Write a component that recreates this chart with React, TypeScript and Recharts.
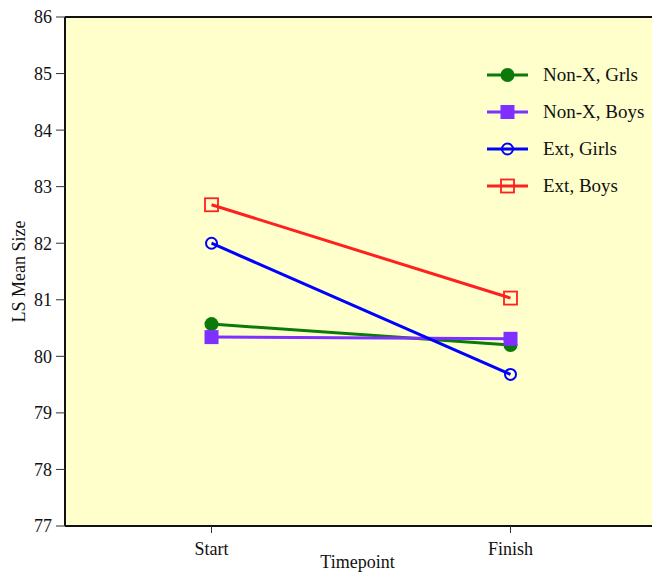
import React from "react";
import { LineChart, Line, XAxis, YAxis, CartesianGrid, ReferenceLine, Legend } from "recharts";

const categories = ["Start", "Finish"];
const yTicks = [77, 78, 79, 80, 81, 82, 83, 84, 85, 86];

const nonXGirls = [80.57, 80.2];
const nonXBoys = [80.34, 80.31];
const extGirls = [82.0, 79.68];
const extBoys = [82.68, 81.03];

const series = [
  { key: "nonXGirls", name: "Non-X, Grls", color: "#0b7a0b", shape: "circle", filled: true, size: 7 },
  { key: "nonXBoys", name: "Non-X, Boys", color: "#7f2fff", shape: "square", filled: true, size: 14 },
  { key: "extGirls", name: "Ext, Girls", color: "#0000ff", shape: "circle", filled: false, size: 5.5 },
  { key: "extBoys", name: "Ext, Boys", color: "#ff2020", shape: "square", filled: false, size: 13 },
];

const data = categories.map((c, i) => ({
  x: i,
  label: c,
  nonXGirls: nonXGirls[i],
  nonXBoys: nonXBoys[i],
  extGirls: extGirls[i],
  extBoys: extBoys[i],
}));

const font = "'Liberation Serif', 'DejaVu Serif', serif";

function Marker({ cx, cy, s }: any) {
  if (s.shape === "circle") {
    return (
      <circle
        cx={cx}
        cy={cy}
        r={s.size}
        fill={s.filled ? s.color : "none"}
        stroke={s.color}
        strokeWidth={s.filled ? 0 : 2}
      />
    );
  }
  const h = s.size / 2;
  return (
    <rect
      x={cx - h}
      y={cy - h}
      width={s.size}
      height={s.size}
      fill={s.filled ? s.color : "none"}
      stroke={s.color}
      strokeWidth={s.filled ? 0 : 1.8}
    />
  );
}

const makeDot = (s: any) => (p: any) => (
  <g key={`${s.key}-${p.index}`}>
    <Marker cx={p.cx} cy={p.cy} s={s} />
  </g>
);

function LegendBox() {
  return (
    <div style={{ fontFamily: font, fontSize: 19, color: "#111" }}>
      {series.map((s) => (
        <div key={s.key} style={{ display: "flex", alignItems: "center", height: 37 }}>
          <svg width={48} height={20}>
            <line x1={4} x2={45} y1={10} y2={10} stroke={s.color} strokeWidth={3} />
            <Marker cx={24.5} cy={10} s={s} />
          </svg>
          <span style={{ marginLeft: 12, whiteSpace: "nowrap" }}>{s.name}</span>
        </div>
      ))}
    </div>
  );
}

export default function App() {
  return (
    <div style={{ position: "fixed", left: 0, top: 0, width: 652, height: 573, overflow: "hidden", background: "#fff" }}>
      <LineChart width={660} height={573} data={data} margin={{ top: 17, right: 0, bottom: 0, left: 0 }}>
        <CartesianGrid horizontal={false} vertical={false} fill="#ffffcc" />
        <XAxis
          type="number"
          dataKey="x"
          domain={[-0.49, 1.5]}
          ticks={[0, 1]}
          tickFormatter={(v: number) => categories[v]}
          height={47}
          tickSize={7}
          tickMargin={9}
          tick={{ fill: "#111", fontSize: 18, fontFamily: font }}
          tickLine={{ stroke: "#333" }}
          axisLine={{ stroke: "#111", strokeWidth: 2 }}
          label={{
            value: "Timepoint",
            position: "insideBottom",
            offset: 5,
            dx: -5,
            style: { fill: "#111", fontSize: 18, fontFamily: font },
          }}
        />
        <YAxis
          type="number"
          domain={[77, 86]}
          ticks={yTicks}
          width={65}
          tickSize={9}
          tickMargin={4}
          tick={{ fill: "#111", fontSize: 18, fontFamily: font }}
          tickLine={{ stroke: "#333" }}
          axisLine={{ stroke: "#111", strokeWidth: 2 }}
          label={{
            content: (p: any) => {
              const vb = p.viewBox;
              const cy = vb.y + vb.height / 2;
              return (
                <text
                  x={19}
                  y={cy}
                  transform={`rotate(-90 19 ${cy})`}
                  textAnchor="middle"
                  dominantBaseline="central"
                  style={{ fill: "#111", fontSize: 18, fontFamily: font }}
                >
                  LS Mean Size
                </text>
              );
            },
          }}
        />
        <ReferenceLine y={86} stroke="#111" strokeWidth={2} />
        {series.map((s) => (
          <Line
            key={s.key}
            dataKey={s.key}
            name={s.name}
            stroke={s.color}
            strokeWidth={3}
            dot={makeDot(s)}
            activeDot={false}
            isAnimationActive={false}
          />
        ))}
        <Legend
          layout="vertical"
          align="center"
          verticalAlign="middle"
          content={() => <LegendBox />}
          wrapperStyle={{ top: 56, left: 483, width: 180, height: 150 }}
        />
      </LineChart>
    </div>
  );
}
